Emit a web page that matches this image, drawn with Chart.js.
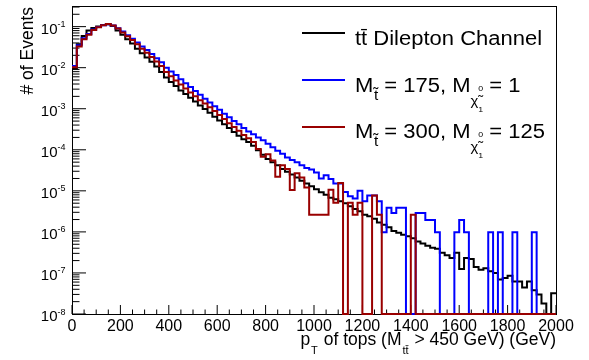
<!DOCTYPE html>
<html>
<head>
<meta charset="utf-8">
<script src="https://cdn.jsdelivr.net/npm/chart.js@4.4.1/dist/chart.umd.min.js"></script>
<style>
html,body{margin:0;padding:0;background:#fff;}
canvas{display:block;}
</style>
</head>
<body>
<canvas id="c" width="589" height="360"></canvas>
<script>
// ---------- axis ranges / tick labels ----------
const X_MIN = 0, X_MAX = 2000, BIN_WIDTH = 20;
const Y_MIN = 1e-8, Y_MAX = 0.318;
const xTickLabels = [0, 200, 400, 600, 800, 1000, 1200, 1400, 1600, 1800, 2000];
const yTickExponents = [-8, -7, -6, -5, -4, -3, -2, -1];

// ---------- series (one value per 20 GeV bin, 0..2000 GeV) ----------
const ttbarDilepton = [
  0.0098, 0.037, 0.059, 0.080, 0.093, 0.101, 0.110, 0.115, 0.104, 0.081,
  0.063, 0.049, 0.039, 0.029, 0.0226, 0.0178, 0.0139, 0.0107, 0.0078, 0.0058,
  0.0045, 0.0036, 0.0028, 0.0023, 0.00185, 0.0015, 0.00120, 0.00098, 0.00080, 0.00064,
  0.00052, 0.00042, 0.00034, 0.00027, 0.00022, 0.00018, 0.000155, 0.000125, 0.000098, 0.000076,
  6.0e-5, 5.0e-5, 4.2e-5, 3.4e-5, 2.9e-5, 2.5e-5, 2.1e-5, 1.75e-5, 1.5e-5, 1.3e-5,
  1.1e-5, 9.3e-6, 8.0e-6, 6.8e-6, 6.2e-6, 5.6e-6, 5.0e-6, 4.2e-6, 3.6e-6, 3.2e-6,
  2.6e-6, 2.4e-6, 2.1e-6, 1.7e-6, 1.5e-6, 1.3e-6, 1.05e-6, 9.5e-7, 8.5e-7, 7.8e-7,
  7.0e-7, 5.8e-7, 5.2e-7, 4.6e-7, 4.1e-7, 3.9e-7, 3.1e-7, 2.7e-7, 2.3e-7, 3.1e-7,
  1.25e-7, 2.3e-7, 2.2e-7, 1.4e-7, 1.2e-7, 1.3e-7, 1.1e-7, 1.0e-7, 6.9e-8, 7.5e-8,
  8.5e-8, 6.2e-8, 6.2e-8, 4.4e-8, 6.2e-8, 3.8e-8, 3.0e-8, 1.8e-8, 0, 3.2e-8
];
const stop175 = [
  0.011, 0.035, 0.052, 0.066, 0.085, 0.098, 0.108, 0.114, 0.106, 0.091,
  0.076, 0.062, 0.051, 0.041, 0.033, 0.027, 0.0215, 0.017, 0.0135, 0.0100,
  0.0081, 0.0066, 0.0052, 0.0042, 0.0034, 0.0027, 0.0022, 0.00175, 0.00142, 0.00115,
  0.00094, 0.00076, 0.00062, 0.00050, 0.00042, 0.00034, 0.00028, 0.00024, 0.00020, 0.00017,
  1.4e-4, 1.15e-4, 9.5e-5, 8.0e-5, 6.5e-5, 5.6e-5, 5.0e-5, 4.2e-5, 3.6e-5, 3.3e-5,
  2.8e-5, 2.0e-5, 2.4e-5, 1.95e-5, 1.5e-5, 1.5e-5, 9.4e-6, 7.4e-6, 6.5e-6, 1.0e-5,
  5.6e-6, 7.7e-6, 7.7e-6, 5.6e-6, 9.8e-7, 3.9e-6, 2.9e-6, 3.9e-6, 3.9e-6, 0,
  0, 2.9e-6, 2.9e-6, 1.95e-6, 1.95e-6, 9.8e-7, 0, 0, 0, 9.8e-7,
  1.95e-6, 9.8e-7, 0, 0, 0, 0, 9.8e-7, 0, 9.8e-7, 0,
  0, 9.8e-7, 0, 0, 0, 9.8e-7, 0, 0, 0, 0
];
const stop300 = [
  0.0103, 0.033, 0.049, 0.063, 0.083, 0.097, 0.108, 0.116, 0.106, 0.090,
  0.072, 0.058, 0.047, 0.037, 0.029, 0.0232, 0.0182, 0.0142, 0.0110, 0.0078,
  0.0062, 0.0049, 0.0039, 0.0031, 0.0025, 0.0020, 0.0016, 0.00135, 0.00108, 0.00088,
  0.00070, 0.00056, 0.00044, 0.00036, 0.00029, 0.00023, 0.00019, 0.000155, 0.000105, 0.000068,
  7.8e-5, 5.5e-5, 2.2e-5, 4.2e-5, 3.4e-5, 1.05e-5, 2.7e-5, 2.1e-5, 1.2e-5, 2.6e-6,
  2.6e-6, 2.6e-6, 2.6e-6, 1.07e-5, 5.1e-6, 1.55e-5, 0, 5.1e-6, 2.6e-6, 5.1e-6,
  0, 0, 7.7e-6, 2.6e-6, 0, 0, 0, 0, 0, 0,
  2.6e-6, 0, 0, 0, 0, 0, 0, 0, 0, 0,
  0, 0, 0, 0, 0, 0, 0, 0, 0, 0,
  0, 0, 0, 0, 0, 0, 0, 0, 0, 0
];

const FONT = '"Liberation Sans", Arial, Helvetica, sans-serif';
const COLORS = { ttbar: '#000000', s175: '#0000ff', s300: '#990000' };

// build step-histogram outline points (bin low edge / high edge) from bin values
function histPoints(values) {
  const pts = [];
  values.forEach((v, i) => {
    const y = Math.max(v, Y_MIN);
    pts.push({ x: X_MIN + i * BIN_WIDTH, y: y });
    pts.push({ x: X_MIN + (i + 1) * BIN_WIDTH, y: y });
  });
  return pts;
}

function richWidth(ctx, parts) {
  let w = 0;
  for (const p of parts) {
    if (p.stack) {
      let m = 0;
      for (const s of p.stack) { ctx.font = s.size + 'px ' + FONT; m = Math.max(m, ctx.measureText(s.t).width); }
      w += (p.dx || 0) + m;
    } else {
      ctx.font = p.size + 'px ' + FONT;
      w += (p.dx || 0) + ctx.measureText(p.t).width;
    }
  }
  return w;
}
function drawRich(ctx, x, base, parts, sx) {
  sx = sx || 1;
  ctx.save();
  ctx.translate(x, base);
  ctx.scale(sx, 1);
  let cx = 0;
  ctx.textAlign = 'left';
  ctx.textBaseline = 'alphabetic';
  for (const p of parts) {
    cx += (p.dx || 0);
    if (p.stack) {
      let m = 0;
      for (const s of p.stack) {
        ctx.font = s.size + 'px ' + FONT;
        ctx.fillText(s.t, cx, s.dy);
        m = Math.max(m, ctx.measureText(s.t).width);
      }
      cx += m;
    } else {
      ctx.font = p.size + 'px ' + FONT;
      ctx.fillText(p.t, cx, (p.dy || 0));
      cx += ctx.measureText(p.t).width;
    }
  }
  ctx.restore();
}

const rootStyle = {
  id: 'rootStyle',
  beforeDatasetsDraw(chart) {
    const { ctx, chartArea: a, scales: { x, y } } = chart;
    ctx.save();
    ctx.strokeStyle = '#000';
    ctx.lineWidth = 1;
    // frame
    ctx.strokeRect(a.left + 0.5, a.top + 0.5, a.right - a.left, a.bottom - a.top);
    // y ticks (inside, log)
    ctx.beginPath();
    for (let e = -8; e <= 0; e++) {
      for (let k = 1; k <= 9; k++) {
        const v = k * Math.pow(10, e);
        if (v < Y_MIN || v > Y_MAX) continue;
        const py = y.getPixelForValue(v);
        const len = (k === 1) ? 14 : 7.5;
        ctx.moveTo(a.left, py);
        ctx.lineTo(a.left + len, py);
      }
    }
    // x ticks
    for (let v = X_MIN; v <= X_MAX; v += 50) {
      const px = x.getPixelForValue(v);
      const len = (v % 200 === 0) ? 9 : 4.5;
      ctx.moveTo(px, a.bottom);
      ctx.lineTo(px, a.bottom - len);
    }
    ctx.stroke();

    // tick labels
    ctx.fillStyle = '#000';
    ctx.textBaseline = 'alphabetic';
    xTickLabels.forEach(v => {
      ctx.font = '16px ' + FONT;
      ctx.textAlign = 'center';
      ctx.fillText(String(v), x.getPixelForValue(v), a.bottom + 16.5);
    });
    yTickExponents.forEach(e => {
      const py = y.getPixelForValue(Math.pow(10, e));
      ctx.font = '15px ' + FONT;
      ctx.textAlign = 'right';
      ctx.fillText('10', 57.5, py + 7);
      ctx.font = '9px ' + FONT;
      ctx.textAlign = 'left';
      ctx.fillText(String(e), 57.5, py + 0.5);
    });
    ctx.restore();
  },
  afterDatasetsDraw(chart) {
    const { ctx, chartArea: a } = chart;
    ctx.save();
    ctx.fillStyle = '#000';
    // y title
    ctx.save();
    ctx.translate(33, a.top + 1);
    ctx.rotate(-Math.PI / 2);
    ctx.font = '17.5px ' + FONT;
    ctx.textAlign = 'right';
    ctx.textBaseline = 'alphabetic';
    ctx.fillText('# of Events', 0, 0);
    ctx.restore();

    // x title
    const xt = [
      { t: 'p', size: 17.5 },
      { t: 'T', size: 11, dy: 9, dx: 1 },
      { t: ' of tops (M', size: 17.5, dx: 1 },
      { t: 't\u0074\u0304', size: 11, dy: 9, dx: 1 },
      { t: ' > 450 GeV) (GeV)', size: 17.5, dx: 1 }
    ];
    const w = richWidth(ctx, xt);
    drawRich(ctx, a.right - w, 345, xt, 1);

    // legend
    const LSX = 1.1;
    const entries = [
      { color: COLORS.ttbar, ly: 33, base: 45, parts: [
        { t: 't\u0074\u0304 Dilepton Channel', size: 20 }
      ]},
      { color: COLORS.s175, ly: 80, base: 92, parts: [
        { t: 'M', size: 20 },
        { t: 't\u0303', size: 14, dy: 8, dx: 0.5 },
        { t: ' = 175, M', size: 20 },
        { t: '\u03c7\u0303', size: 13.5, dy: 13, dx: 0 },
        { stack: [ { t: '0', size: 8, dy: -1 }, { t: '1', size: 8, dy: 20 } ], dx: 0 },
        { t: ' = 1', size: 20 }
      ]},
      { color: COLORS.s300, ly: 127, base: 138, parts: [
        { t: 'M', size: 20 },
        { t: 't\u0303', size: 14, dy: 8, dx: 0.5 },
        { t: ' = 300, M', size: 20 },
        { t: '\u03c7\u0303', size: 13.5, dy: 13, dx: 0 },
        { stack: [ { t: '0', size: 8, dy: -1 }, { t: '1', size: 8, dy: 20 } ], dx: 0 },
        { t: ' = 125', size: 20 }
      ]}
    ];
    entries.forEach(en => {
      ctx.strokeStyle = en.color;
      ctx.lineWidth = 2;
      ctx.beginPath();
      ctx.moveTo(302, en.ly);
      ctx.lineTo(345, en.ly);
      ctx.stroke();
      ctx.fillStyle = '#000';
      drawRich(ctx, 355, en.base, en.parts, LSX);
    });
    ctx.restore();
  }
};

const mkDs = (label, values, color, order) => ({
  label, data: histPoints(values), borderColor: color, borderWidth: 2,
  pointRadius: 0, pointHoverRadius: 0, tension: 0, fill: false, clip: false,
  borderJoinStyle: 'miter', borderCapStyle: 'butt', order
});

new Chart(document.getElementById('c'), {
  type: 'line',
  data: {
    datasets: [
      mkDs('tt Dilepton Channel', ttbarDilepton, COLORS.ttbar, 2),
      mkDs('M_stop = 175, M_chi = 1', stop175, COLORS.s175, 1),
      mkDs('M_stop = 300, M_chi = 125', stop300, COLORS.s300, 0)
    ]
  },
  options: {
    responsive: false,
    animation: false,
    events: [],
    layout: { padding: { left: 72, right: 33, top: 6, bottom: 46 } },
    plugins: { legend: { display: false }, tooltip: { enabled: false }, title: { display: false } },
    scales: {
      x: { type: 'linear', min: X_MIN, max: X_MAX, display: false },
      y: { type: 'logarithmic', min: Y_MIN, max: Y_MAX, display: false }
    }
  },
  plugins: [rootStyle]
});
</script>
</body>
</html>
